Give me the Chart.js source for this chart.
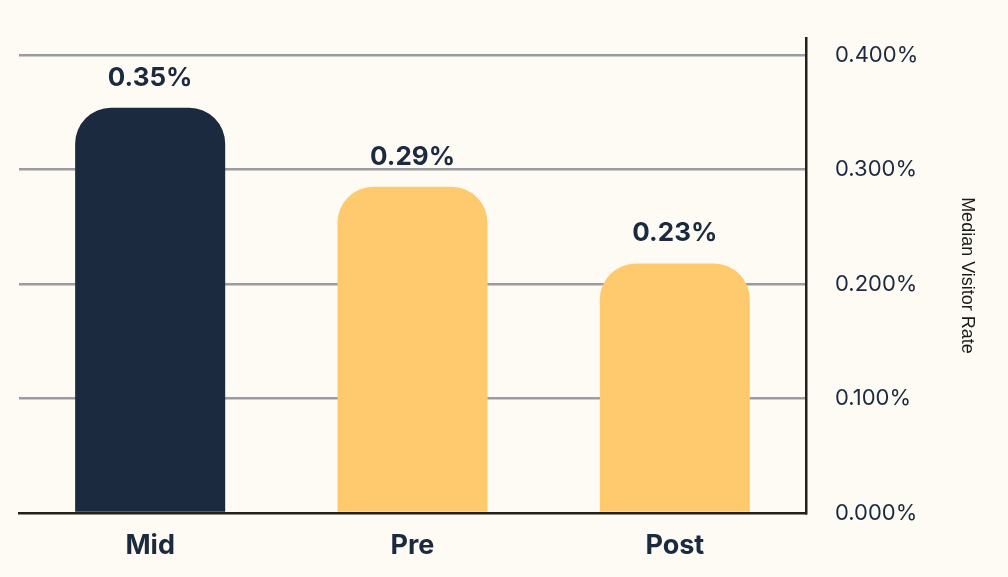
<!DOCTYPE html>
<html>
<head>
<meta charset="utf-8">
<script src="https://cdn.jsdelivr.net/npm/chart.js@4.4.1/dist/chart.umd.min.js"></script>
<style>
  html, body { margin: 0; padding: 0; background: #FEFBF5; }
  #wrap { width: 1008px; height: 577px; position: relative; }
</style>
</head>
<body>
<div id="wrap"><canvas id="rateChart"></canvas></div>
<script>
const phases = ['Mid', 'Pre', 'Post'];
const medianRates = [0.354, 0.285, 0.218];
const rateLabels = ['0.35%', '0.29%', '0.23%'];
const barColors = ['#1B2A3E', '#FFCA6E', '#FFCA6E'];
const rateTicks = [0, 0.1, 0.2, 0.3, 0.4];

const navy = '#1B2A3E';

// draws the bold value text above each bar
const valueLabels = {
    id: 'valueLabels',
    afterDatasetsDraw(chart) {
        const ctx = chart.ctx;
        const bars = chart.getDatasetMeta(0).data;
        ctx.save();
        ctx.font = 'bold 26px Inter';
        ctx.fillStyle = navy;
        ctx.textAlign = 'center';
        ctx.textBaseline = 'middle';
        bars.forEach((bar, i) => {
            ctx.fillText(rateLabels[i], bar.x, bar.y - 30);
        });
        ctx.restore();
    }
};

const ctx = document.getElementById('rateChart').getContext('2d');

new Chart(ctx, {
    type: 'bar',
    data: {
        labels: phases,
        datasets: [{
            label: 'Median Visitor Rate',
            data: medianRates,
            backgroundColor: barColors,
            borderRadius: 36,
            borderSkipped: 'bottom',
            categoryPercentage: 1,
            barPercentage: 0.572
        }]
    },
    options: {
        responsive: true,
        maintainAspectRatio: false,
        animation: false,
        layout: {
            padding: { left: 19, top: 38, right: 0, bottom: 0 }
        },
        plugins: {
            legend: { display: false },
            tooltip: { enabled: false }
        },
        scales: {
            x: {
                grid: { display: false, drawTicks: false },
                border: { display: true, color: '#231F1C', width: 2.5 },
                ticks: {
                    color: navy,
                    padding: 17,
                    font: { family: 'Inter', size: 27, weight: 'bold' }
                },
                afterFit: scale => { scale.height = 64; }
            },
            y: {
                position: 'right',
                min: 0,
                max: 0.415,
                afterBuildTicks: scale => {
                    scale.ticks = rateTicks.map(v => ({ value: v }));
                },
                grid: {
                    drawTicks: false,
                    lineWidth: 2.5,
                    color: c => c.tick && c.tick.value === 0 ? 'rgba(0,0,0,0)' : '#9A9CA1'
                },
                border: { display: true, color: '#231F1C', width: 2.5 },
                ticks: {
                    color: navy,
                    padding: 29,
                    font: { family: 'Inter', size: 22 },
                    callback: v => v.toFixed(3) + '%'
                },
                title: {
                    display: true,
                    text: 'Median Visitor Rate',
                    color: '#1A1A1A',
                    font: { family: 'Liberation Sans', size: 18 },
                    padding: { top: 30, bottom: 0 }
                },
                afterFit: scale => {
                    scale.width = 202;
                    scale.paddingTop = 0;
                    scale.paddingBottom = 0;
                }
            }
        }
    },
    plugins: [valueLabels]
});
</script>
</body>
</html>
